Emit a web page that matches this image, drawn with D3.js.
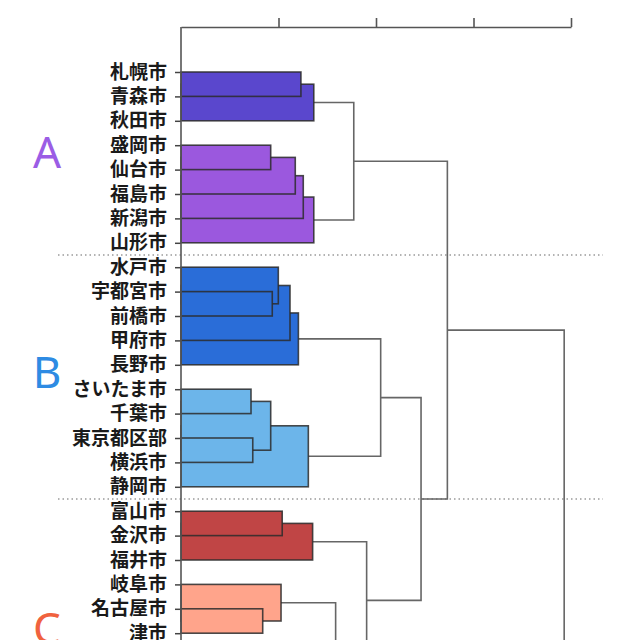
<!DOCTYPE html>
<html>
<head>
<meta charset="utf-8">
<script src="https://cdn.jsdelivr.net/npm/d3@7/dist/d3.min.js"></script>
<style>
  html, body { margin: 0; padding: 0; overflow: hidden; background: #fff; }
  .leaf text { font-family: "Noto Sans CJK JP", "Noto Sans", sans-serif; font-size: 19px; font-weight: bold; fill: #1a1a1a; }
  .group-label { font-family: "Noto Sans", "Open Sans", sans-serif; font-size: 44px; }
</style>
</head>
<body>
<div id="chart"></div>
<script>
// leaves, top to bottom
var cities = [
  "札幌市", "青森市", "秋田市", "盛岡市", "仙台市", "福島市", "新潟市", "山形市",
  "水戸市", "宇都宮市", "前橋市", "甲府市", "長野市", "さいたま市", "千葉市", "東京都区部", "横浜市", "静岡市",
  "富山市", "金沢市", "福井市", "岐阜市", "名古屋市", "津市", "大津市", "京都市", "大阪市", "神戸市", "奈良市",
  "和歌山市", "鳥取市", "松江市", "岡山市", "広島市", "山口市", "徳島市", "高松市", "松山市", "高知市",
  "福岡市", "佐賀市", "長崎市", "熊本市", "大分市", "宮崎市", "鹿児島市", "那覇市"
];

// linkage: [id, left, right, distance]
var merges = [
  ["a1", "札幌市", "青森市", 0.615],
  ["a2", "a1", "秋田市", 0.681],
  ["a3", "盛岡市", "仙台市", 0.460],
  ["a4", "a3", "福島市", 0.586],
  ["a5", "a4", "新潟市", 0.627],
  ["a6", "a5", "山形市", 0.681],
  ["a7", "a2", "a6", 0.886],
  ["b1", "宇都宮市", "前橋市", 0.468],
  ["b2", "水戸市", "b1", 0.499],
  ["b3", "b2", "甲府市", 0.559],
  ["b4", "b3", "長野市", 0.602],
  ["b5", "さいたま市", "千葉市", 0.359],
  ["b6", "東京都区部", "横浜市", 0.368],
  ["b7", "b5", "b6", 0.460],
  ["b8", "b7", "静岡市", 0.653],
  ["b9", "b4", "b8", 1.024],
  ["c1", "富山市", "金沢市", 0.519],
  ["c2", "c1", "福井市", 0.675],
  ["c3", "名古屋市", "津市", 0.419],
  ["c4", "岐阜市", "c3", 0.513],
  ["k1", "大津市", "京都市", 0.50],
  ["k2", "k1", "大阪市", 0.58],
  ["k3", "神戸市", "奈良市", 0.49],
  ["k4", "k2", "k3", 0.66],
  ["c5", "c4", "k4", 0.793],
  ["c6", "c2", "c5", 0.952],
  ["bc", "b9", "c6", 1.231],
  ["abc", "a7", "bc", 1.366],
  ["d1", "鳥取市", "松江市", 0.45],
  ["d2", "岡山市", "広島市", 0.47],
  ["d3", "d1", "d2", 0.58],
  ["d4", "d3", "山口市", 0.64],
  ["d5", "和歌山市", "d4", 0.72],
  ["d6", "徳島市", "高松市", 0.48],
  ["d7", "松山市", "高知市", 0.52],
  ["d8", "d6", "d7", 0.60],
  ["d9", "d5", "d8", 0.85],
  ["e1", "福岡市", "佐賀市", 0.46],
  ["e2", "e1", "長崎市", 0.55],
  ["e3", "熊本市", "大分市", 0.50],
  ["e4", "e3", "宮崎市", 0.57],
  ["e5", "e2", "e4", 0.66],
  ["e6", "e5", "鹿児島市", 0.74],
  ["e7", "e6", "那覇市", 1.05],
  ["de", "d9", "e7", 1.15],
  ["root", "abc", "de", 1.965]
];

// sub-clusters drawn as filled boxes
var filledRoots = ["a2", "a6", "b4", "b8", "c2", "c4", "k4", "d9", "e7"];
var filledColors = ["#5a47cd", "#9b58de", "#2a6dd8", "#6cb5ea", "#c04545", "#ffa48b", "#f7c59a", "#8fcf8f", "#e6d36b"];

// groups: label, first city, last city
var groupNames = ["A", "B", "C", "D"];
var groupFirst = ["札幌市", "水戸市", "富山市", "和歌山市"];
var groupLast = ["山形市", "静岡市", "奈良市", "那覇市"];
var groupColors = ["#9b5de5", "#2e8be3", "#f0623e", "#4aa84a"];

var distTicks = [0.5, 1, 1.5, 2];

function drawDendrogram() {
  var width = 640;
  var rowStep = 24.4;
  var top = 72;
  var height = top + rowStep * (cities.length - 1) + 60;

  var svg = d3.select("#chart")
    .append("svg")
      .attr("width", width)
      .attr("height", height);

  var x = d3.scaleLinear().domain([0, 2]).range([181, 571]);
  var y = d3.scalePoint()
      .domain(cities)
      .range([top, top + rowStep * (cities.length - 1)]);

  // build tree
  var nodes = {};
  cities.forEach(function(c) { nodes[c] = {name: c, h: 0}; });
  merges.forEach(function(m) {
    nodes[m[0]] = {name: m[0], h: m[3], children: [nodes[m[1]], nodes[m[2]]]};
  });
  var root = d3.hierarchy(nodes["root"], function(d) { return d.children; });
  root.eachAfter(function(n) {
    n.pos = n.children ? (n.children[0].pos + n.children[1].pos) / 2 : y(n.data.name);
  });

  // which filled cluster does each node belong to
  root.eachBefore(function(n) {
    var k = filledRoots.indexOf(n.data.name);
    if (k >= 0) n.fill = filledColors[k];
    else if (n.parent && n.parent.fill) n.fill = n.parent.fill;
  });

  // group separators
  for (var g = 0; g < groupNames.length - 1; g++) {
    var sy = (y(groupLast[g]) + y(groupFirst[g + 1])) / 2;
    svg.append("line")
      .attr("x1", 58).attr("x2", 603)
      .attr("y1", sy).attr("y2", sy)
      .attr("stroke", "#9a9a9a")
      .attr("stroke-width", 1.3)
      .attr("stroke-dasharray", "1.5,3");
  }

  // group letters
  svg.selectAll(".group-label")
    .data(groupNames)
    .enter().append("text")
      .attr("class", "group-label")
      .attr("x", 47)
      .attr("y", function(d, i) { return (y(groupFirst[i]) + y(groupLast[i])) / 2 + 11; })
      .attr("text-anchor", "middle")
      .attr("fill", function(d, i) { return groupColors[i]; })
      .text(function(d) { return d; });

  var inner = root.descendants().filter(function(n) { return n.children; });

  // connector elbows above the filled clusters
  svg.append("g")
    .selectAll("path")
    .data(inner.filter(function(n) { return !n.fill; }))
    .enter().append("path")
      .attr("fill", "none")
      .attr("stroke", "#666")
      .attr("stroke-width", 1.6)
      .attr("d", function(n) {
        var a = n.children[0], b = n.children[1];
        return "M" + x(a.data.h) + "," + a.pos +
               "H" + x(n.data.h) + "V" + b.pos +
               "H" + x(b.data.h);
      });

  // filled boxes, outer ones first
  var boxes = inner.filter(function(n) { return n.fill; })
    .sort(function(a, b) { return b.data.h - a.data.h; });
  svg.append("g")
    .selectAll("rect")
    .data(boxes)
    .enter().append("rect")
      .attr("x", x(0))
      .attr("y", function(n) { return n.children[0].pos; })
      .attr("width", function(n) { return x(n.data.h) - x(0); })
      .attr("height", function(n) { return n.children[1].pos - n.children[0].pos; })
      .attr("fill", function(n) { return n.fill; })
      .attr("stroke", "#2b2b2b")
      .attr("stroke-opacity", 0.85)
      .attr("stroke-width", 1.6);

  // distance axis on top
  svg.append("g")
    .attr("transform", "translate(0,27)")
    .call(d3.axisTop(x).tickValues(distTicks).tickSize(9).tickSizeOuter(0).tickFormat(""))
    .call(function(g) {
      g.selectAll("line, path").attr("stroke", "#555").attr("stroke-width", 1.6);
    });

  // leaf axis
  svg.append("g")
    .attr("class", "leaf")
    .attr("transform", "translate(" + x(0) + ",0)")
    .call(d3.axisLeft(y).tickSize(6).tickPadding(8).tickSizeOuter(0))
    .call(function(g) {
      g.select(".domain").remove();
      g.selectAll(".tick line").attr("stroke", "#444").attr("stroke-width", 1.5);
    });

  svg.append("line")
    .attr("x1", x(0)).attr("x2", x(0))
    .attr("y1", 27).attr("y2", height)
    .attr("stroke", "#555")
    .attr("stroke-width", 1.6);
}

drawDendrogram();
</script>
</body>
</html>
